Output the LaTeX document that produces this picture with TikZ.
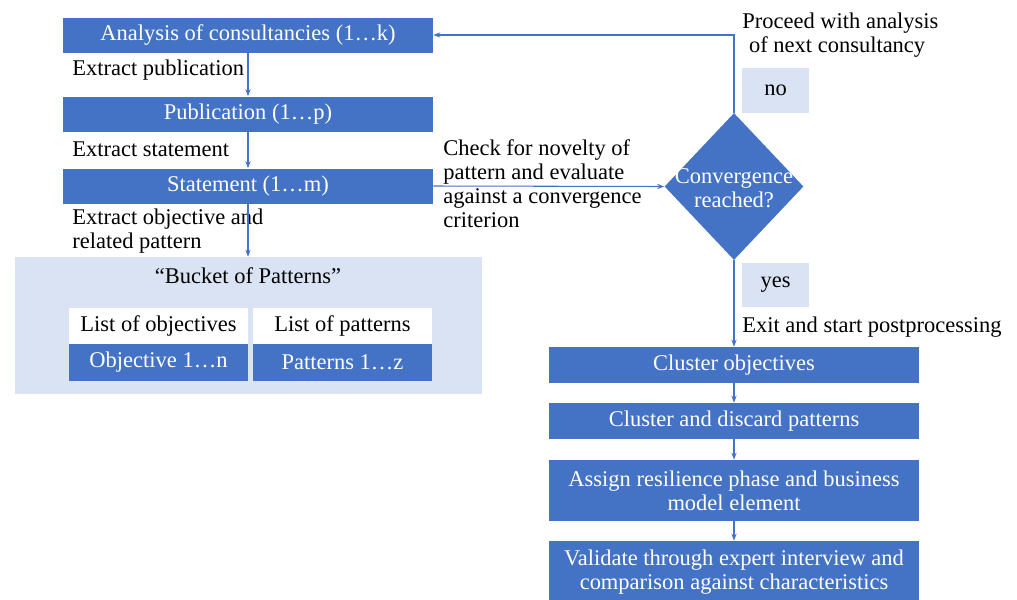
\documentclass[tikz,border=0pt]{standalone}
\usepackage{fontspec}
\setmainfont{Liberation Serif}
\usetikzlibrary{arrows.meta}
\usetikzlibrary{shapes.geometric}

\definecolor{boxblue}{HTML}{4472C4}
\definecolor{paleblue}{HTML}{DAE3F3}

\tikzset{
  stepbox/.style={rectangle, fill=boxblue, text=white, minimum width=7.4cm, minimum height=0.7cm, inner sep=0pt, align=center},
  listhead/.style={rectangle, fill=white, minimum width=3.58cm, minimum height=0.72cm, inner sep=0pt},
  listbody/.style={rectangle, fill=boxblue, text=white, minimum width=3.58cm, minimum height=0.74cm, inner sep=0pt},
  answer/.style={rectangle, fill=paleblue, minimum width=1.34cm, minimum height=0.89cm, inner sep=0pt},
  flow/.style={draw=boxblue, line width=0.6pt, -{Stealth[length=4pt,width=3pt]}},
  note/.style={anchor=west, align=left, inner sep=0pt},
}

\begin{document}
\begin{tikzpicture}[x=0.02cm, y=-0.02cm, font=\fontsize{12.8}{13.66}\selectfont]
      \useasboundingbox (0,0) rectangle (1017,599);

      % left column
      \node[stepbox] (cons) at (248,35) {Analysis of consultancies (1…k)};
      \node[stepbox] (pub) at (248,114) {Publication (1…p)};
      \node[stepbox] (stmt) at (248,186) {Statement (1…m)};

      \node[note] (xpub) at (72,70) {Extract publication};
      \node[note] (xstmt) at (72,149) {Extract statement};
      \node[note] (xobj) at (72,231) {Extract objective and\\related pattern};

      % bucket
      \node[fill=paleblue, minimum width=9.34cm, minimum height=2.74cm, inner sep=0pt] (bucket) at (248.5,325.5) {};
      \node (btitle) at (248,276) {“Bucket of Patterns”};
      \node[listhead] (lobj) at (158.5,325.5) {List of objectives};
      \node[listhead] (lpat) at (342.5,325.5) {List of patterns};
      \node[listbody] (obj) at (158.5,362) {Objective 1…n};
      \node[listbody] (pat) at (342.5,362) {Patterns 1…z};

      % decision
      \node[diamond, fill=boxblue, minimum width=2.78cm, minimum height=2.94cm, inner sep=0pt] (conv) at (734,186.5) {};
      \node[text=white, align=center] (convtxt) at (734,188) {Convergence\\reached?};
      \node[answer] (no) at (775.5,90.5) {no};
      \node[answer] (yes) at (775.5,285) {yes};

      \node[note] (xcheck) at (443,184) {Check for novelty of\\pattern and evaluate\\against a convergence\\criterion};
      \node[note] (xnext) at (742,35) {Proceed with analysis\\\hspace{0.3em}of next consultancy};
      \node[note] (xexit) at (742,327) {Exit and start postprocessing};

      % right column
      \node[stepbox, minimum width=7.42cm, minimum height=0.72cm] (clobj) at (734,365) {Cluster objectives};
      \node[stepbox, minimum width=7.42cm, minimum height=0.72cm] (cldis) at (734,421) {Cluster and discard patterns};
      \node[stepbox, minimum width=7.42cm, minimum height=1.22cm] (assign) at (734,490.5) {Assign resilience phase and business\\model element};
      \node[stepbox, minimum width=7.42cm, minimum height=1.24cm] (valid) at (734,572) {Validate through expert interview  and\\comparison against characteristics};

      \draw[flow] (cons.south) -- (pub.north);
      \draw[flow] (pub.south) -- (stmt.north);
      \draw[flow] (stmt.south) -- (stmt.south |- bucket.north);
      \draw[flow] (stmt.east) -- (conv.west);
      \draw[flow] (conv.north) |- (cons.east);
      \draw[flow] (conv.south) -- (clobj.north);
      \draw[flow] (clobj.south) -- (cldis.north);
      \draw[flow] (cldis.south) -- (assign.north);
      \draw[flow] (assign.south) -- (valid.north);
    \end{tikzpicture}
\end{document}
